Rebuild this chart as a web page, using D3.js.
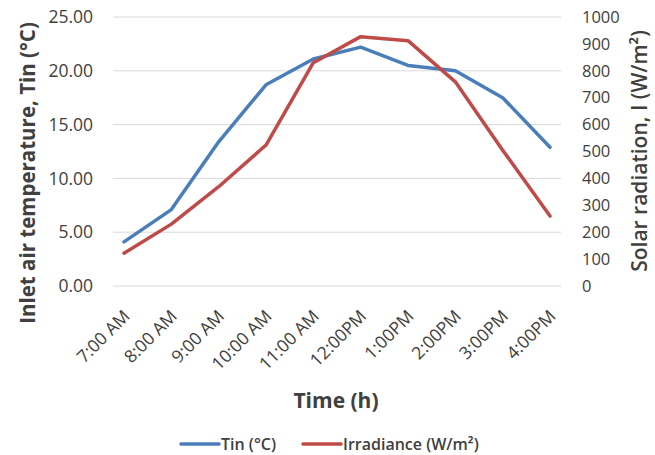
<!DOCTYPE html>
<html><head><meta charset="utf-8">
<script src="https://cdn.jsdelivr.net/npm/d3@7"></script>
<style>body{margin:0;background:#fff}text{font-family:"Open Sans",sans-serif}</style>
</head><body><svg id="c" width="655" height="455"></svg>
<script>
const categories = ["7:00 AM","8:00 AM","9:00 AM","10:00 AM","11:00 AM","12:00PM","1:00PM","2:00PM","3:00PM","4:00PM"];
const tinValues = [4.1, 7.1, 13.4, 18.7, 21.1, 22.2, 20.5, 20.0, 17.5, 12.9];
const irradianceValues = [122, 230, 369, 524, 830, 927, 912, 759, 505, 260];
const leftTicks = [0,5,10,15,20,25];
const rightTicks = [0,100,200,300,400,500,600,700,800,900,1000];
const seriesNames = ["Tin (°C)", "Irradiance (W/m²)"];

const svg = d3.select("#c");
const gridL = 113, gridR = 561, plotTop = 17, plotBottom = 286;
const x = d3.scalePoint().domain(categories).range([124, 550]);
const yL = d3.scaleLinear().domain([0,25]).range([plotBottom, plotTop]);
const yR = d3.scaleLinear().domain([0,1000]).range([plotBottom, plotTop]);
const txt = "#404040";
const blue = "#4A7EBB", red = "#BE4B48";

// gridlines
svg.append("g").selectAll("line").data(leftTicks).join("line")
  .attr("x1", gridL).attr("x2", gridR)
  .attr("y1", d => yL(d)).attr("y2", d => yL(d))
  .attr("stroke", "#d9d9d9").attr("stroke-width", 1);

// left axis
const la = svg.append("g").attr("transform", `translate(${gridL},0)`)
  .call(d3.axisLeft(yL).tickValues(leftTicks).tickFormat(d3.format(".2f")).tickSize(0).tickPadding(20));
la.select(".domain").remove();
la.selectAll("text").attr("fill", txt).style("font-size", "17.5px");

// right axis
const ra = svg.append("g").attr("transform", `translate(${gridR},0)`)
  .call(d3.axisRight(yR).tickValues(rightTicks).tickFormat(d3.format("d")).tickSize(0).tickPadding(21));
ra.select(".domain").remove();
ra.selectAll("text").attr("fill", txt).style("font-size", "16.5px");

// x axis labels
const xa = svg.append("g").attr("transform", `translate(0,${plotBottom})`)
  .call(d3.axisBottom(x).tickSize(0).tickPadding(0));
xa.select(".domain").remove();
xa.selectAll("text").attr("fill", txt).style("font-size", "17.5px")
  .attr("text-anchor", "end").attr("dy", "0.35em")
  .attr("transform", "translate(2,27) rotate(-45)");

// lines
const lineL = d3.line().x((d,i) => x(categories[i])).y(d => yL(d));
const lineR = d3.line().x((d,i) => x(categories[i])).y(d => yR(d));
svg.append("path").datum(tinValues).attr("d", lineL)
  .attr("fill", "none").attr("stroke", blue).attr("stroke-width", 3.5).attr("stroke-linejoin", "round").attr("stroke-linecap", "round");
svg.append("path").datum(irradianceValues).attr("d", lineR)
  .attr("fill", "none").attr("stroke", red).attr("stroke-width", 3.5).attr("stroke-linejoin", "round").attr("stroke-linecap", "round");

// titles
svg.append("text").attr("transform", `translate(35,173) rotate(-90)`)
  .attr("text-anchor", "middle").attr("fill", txt).style("font-size", "20.5px").style("font-weight", "bold")
  .text("Inlet air temperature, Tin (°C)");
svg.append("text").attr("transform", `translate(647,151) rotate(-90)`)
  .attr("text-anchor", "middle").attr("fill", txt).style("font-size", "21px").style("font-weight", "600")
  .text("Solar radiation, I (W/m²)");
svg.append("text").attr("x", 336).attr("y", 408).attr("text-anchor", "middle")
  .attr("fill", txt).style("font-size", "21px").style("font-weight", "bold").text("Time (h)");

// legend
const legend = [{name: seriesNames[0], color: blue, x: 181}, {name: seriesNames[1], color: red, x: 303}];
const lg = svg.append("g").selectAll("g").data(legend).join("g");
lg.append("line").attr("x1", d => d.x).attr("x2", d => d.x + 38).attr("y1", 444).attr("y2", 444)
  .attr("stroke", d => d.color).attr("stroke-width", 3.5).attr("stroke-linecap", "round");
lg.append("text").attr("x", d => d.x + 40).attr("y", 450).attr("fill", txt)
  .style("font-size", "16px").style("font-weight", "600").text(d => d.name);
</script></body></html>
